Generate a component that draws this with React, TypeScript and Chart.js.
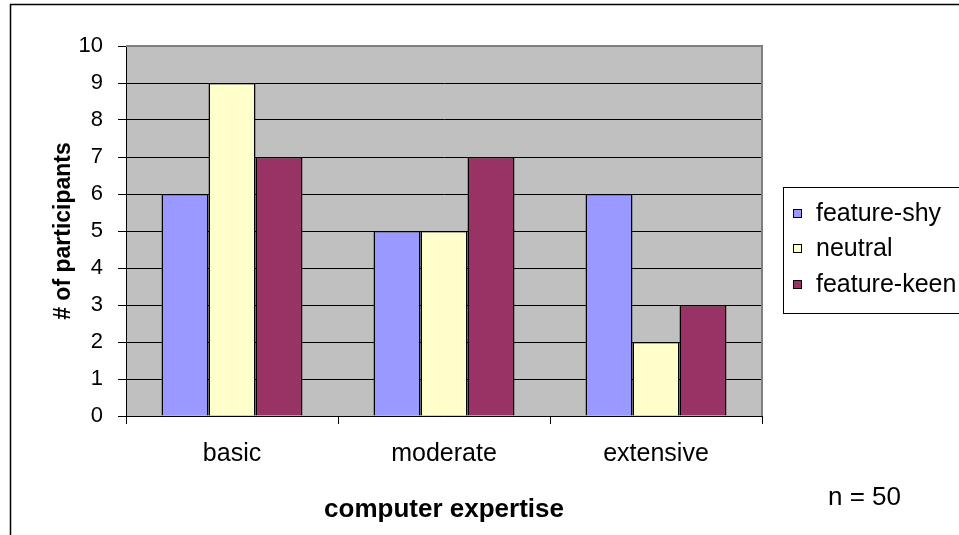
import React, { useEffect, useRef } from "react";
import { Chart, registerables } from "chart.js";

Chart.register(...registerables);

const categories = ["basic", "moderate", "extensive"];
const featureShy = [6, 5, 6];
const neutral = [9, 5, 2];
const featureKeen = [7, 7, 3];
const seriesLabels = ["feature-shy", "neutral", "feature-keen"];
const seriesColors = ["#9999FF", "#FFFFCC", "#993366"];
const yTitle = "# of participants";
const xTitle = "computer expertise";
const noteText = "n = 50";

const FONT = "'Liberation Sans', Arial, sans-serif";

const decorPlugin = {
  id: "decor",
  beforeDraw(chart: any) {
    const { ctx, chartArea } = chart;
    ctx.save();
    ctx.fillStyle = "#FFFFFF";
    ctx.fillRect(0, 0, chart.width, chart.height);
    ctx.fillStyle = "#C0C0C0";
    ctx.fillRect(chartArea.left, chartArea.top, chartArea.right - chartArea.left, chartArea.bottom - chartArea.top);
    ctx.restore();
  },
  afterDraw(chart: any) {
    const { ctx, chartArea } = chart;
    ctx.save();
    // plot area border (top/right)
    ctx.strokeStyle = "#808080";
    ctx.lineWidth = 2;
    ctx.beginPath();
    ctx.moveTo(chartArea.left, chartArea.top);
    ctx.lineTo(chartArea.right, chartArea.top);
    ctx.lineTo(chartArea.right, chartArea.bottom);
    ctx.stroke();
    // outer frame
    ctx.strokeStyle = "#000000";
    ctx.lineWidth = 1.5;
    ctx.beginPath();
    ctx.moveTo(10.5, chart.height + 5);
    ctx.lineTo(10.5, 4.5);
    ctx.lineTo(chart.width + 5, 4.5);
    ctx.stroke();
    // legend
    const lx = 783.5, ly = 187.5, lw = 176, lh = 126;
    ctx.fillStyle = "#FFFFFF";
    ctx.fillRect(lx, ly, lw, lh);
    ctx.strokeStyle = "#000000";
    ctx.lineWidth = 1;
    ctx.strokeRect(lx, ly, lw, lh);
    const rows = [213, 248, 284];
    ctx.font = `25px ${FONT}`;
    ctx.textBaseline = "middle";
    ctx.textAlign = "left";
    chart.data.datasets.forEach((ds: any, i: number) => {
      const cy = rows[i];
      ctx.fillStyle = ds.backgroundColor;
      ctx.fillRect(793, cy - 4, 8, 8);
      ctx.strokeStyle = "#000";
      ctx.lineWidth = 1;
      ctx.strokeRect(793.5, cy - 3.5, 8, 8);
      ctx.fillStyle = "#000";
      ctx.fillText(ds.label, 816, cy + 1);
    });
    // note
    ctx.font = `26px ${FONT}`;
    ctx.textAlign = "left";
    ctx.fillText(noteText, 828, 498);
    ctx.restore();
  },
};

export default function App() {
  const ref = useRef<HTMLCanvasElement | null>(null);
  useEffect(() => {
    if (!ref.current) return;
    const datasets = [featureShy, neutral, featureKeen].map((d, i) => ({
      label: seriesLabels[i],
      data: d,
      backgroundColor: seriesColors[i],
      borderColor: "#000000",
      borderWidth: 1.5,
      categoryPercentage: 0.665,
      barPercentage: 1,
    }));
    const chart = new Chart(ref.current, {
      type: "bar",
      data: { labels: categories, datasets },
      options: {
        animation: false,
        responsive: false,
        maintainAspectRatio: false,
        devicePixelRatio: 1,
        layout: { padding: { left: 0, top: 46, right: 197, bottom: 0 } },
        plugins: { legend: { display: false }, tooltip: { enabled: false }, title: { display: false } },
        scales: {
          x: {
            afterFit(scale: any) { scale.height = 119; },
            grid: { offset: true, drawOnChartArea: false, drawTicks: true, tickLength: 8, color: "#000", tickColor: "#000" },
            border: { color: "#000", width: 1 },
            ticks: { color: "#000", font: { family: FONT, size: 25 }, padding: 15 },
            title: { display: true, text: xTitle, color: "#000", font: { family: FONT, size: 26, weight: "bold" }, padding: { top: 0, bottom: 10 } },
          },
          y: {
            min: 0,
            max: 10,
            afterFit(scale: any) { scale.width = 126; },
            grid: {
              drawTicks: true,
              tickLength: 8,
              color: (c: any) => (c.tick && c.tick.value === 10 ? "rgba(0,0,0,0)" : "#000"),
              tickColor: "#000",
            },
            border: { color: "#000", width: 1 },
            ticks: { stepSize: 1, color: "#000", font: { family: FONT, size: 22 }, padding: 15 },
            title: { display: true, text: yTitle, color: "#000", font: { family: FONT, size: 23, weight: "bold" }, padding: { top: 50, bottom: 0 } },
          },
        },
      },
      plugins: [decorPlugin],
    });
    return () => chart.destroy();
  }, []);
  return (
    <div style={{ position: "fixed", left: 0, top: 0, width: 959, height: 535, background: "#fff" }}>
      <canvas ref={ref} width={959} height={535} style={{ display: "block", width: 959, height: 535 }} />
    </div>
  );
}
